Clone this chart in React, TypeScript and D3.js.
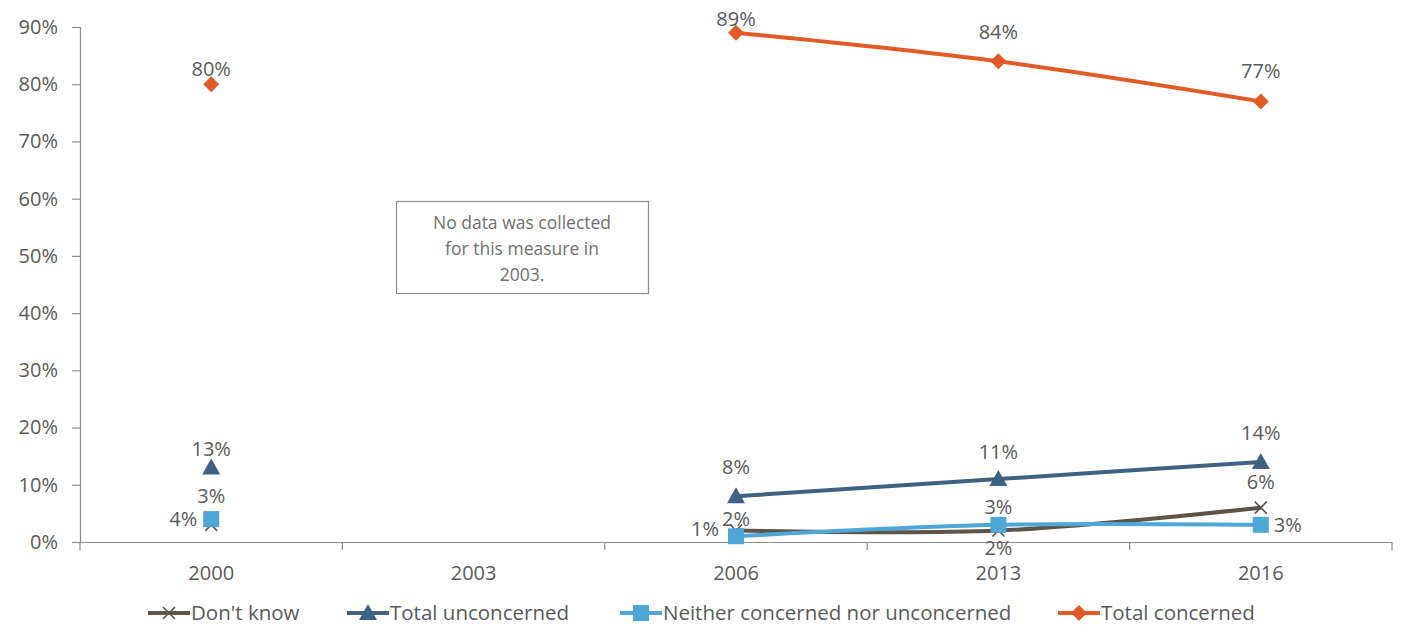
import { useEffect, useRef } from "react";
import * as d3 from "d3";

const years = ["2000", "2003", "2006", "2013", "2016"];
const dontKnow = [3, null, 2, 2, 6];
const totalUnconcerned = [13, null, 8, 11, 14];
const neither = [4, null, 1, 3, 3];
const totalConcerned = [80, null, 89, 84, 77];
const yTicks = [0, 10, 20, 30, 40, 50, 60, 70, 80, 90];
const noteLines = ["No data was collected", "for this measure in", "2003."];

// label placement per point: [dx, dy] from the marker centre, and anchor
type Place = [number, number, string];
const dontKnowPlace: Place[] = [[0, -22, "middle"], [0, 0, ""], [0, -5, "middle"], [0, 24, "middle"], [0, -19, "middle"]];
const unconcernedPlace: Place[] = [[0, -12, "middle"], [0, 0, ""], [0, -22, "middle"], [0, -20, "middle"], [0, -22, "middle"]];
const neitherPlace: Place[] = [[-14, 7, "end"], [0, 0, ""], [-17, 0, "end"], [0, -11, "middle"], [13, 7, "start"]];
const concernedPlace: Place[] = [[0, -8, "middle"], [0, 0, ""], [0, -7, "middle"], [0, -22, "middle"], [0, -23, "middle"]];

interface Series {
  name: string;
  values: (number | null)[];
  color: string;
  marker: string;
  place: Place[];
}

const series: Series[] = [
  { name: "Don't know", values: dontKnow, color: "#5e5349", marker: "x", place: dontKnowPlace },
  { name: "Total unconcerned", values: totalUnconcerned, color: "#3f6283", marker: "triangle", place: unconcernedPlace },
  { name: "Neither concerned nor unconcerned", values: neither, color: "#4ea7d7", marker: "square", place: neitherPlace },
  { name: "Total concerned", values: totalConcerned, color: "#e25a26", marker: "diamond", place: concernedPlace },
];

const FONT = "'Open Sans', sans-serif";
const TEXT = "#5a5a5a";

function drawMarker(g: any, kind: string, x: number, y: number, color: string) {
  if (kind === "x") {
    const s = 6;
    g.append("path")
      .attr("d", `M${x - s},${y - s}L${x + s},${y + s}M${x - s},${y + s}L${x + s},${y - s}`)
      .attr("stroke", color)
      .attr("stroke-width", 1.6)
      .attr("fill", "none");
  } else if (kind === "triangle") {
    g.append("path")
      .attr("d", `M${x},${y - 9}L${x + 9},${y + 7}L${x - 9},${y + 7}Z`)
      .attr("fill", color);
  } else if (kind === "square") {
    g.append("rect")
      .attr("x", x - 8)
      .attr("y", y - 8)
      .attr("width", 16)
      .attr("height", 16)
      .attr("fill", color);
  } else {
    g.append("path")
      .attr("d", `M${x},${y - 8}L${x + 8},${y}L${x},${y + 8}L${x - 8},${y}Z`)
      .attr("fill", color);
  }
}

function Chart() {
  const svgRef = useRef<SVGSVGElement>(null);

  useEffect(() => {
    if (!svgRef.current) return;
    d3.select(svgRef.current).selectAll("*").remove();

    const left = 80;
    const right = 1392;
    const top = 27;
    const bottom = 542;

    const svg = d3.select(svgRef.current);

    const x = d3.scaleBand().domain(years).range([left, right]).padding(0);
    const y = d3.scaleLinear().domain([0, 90]).range([bottom, top]);
    const cx = (yr: string) => x(yr)! + x.bandwidth() / 2;

    // Y axis
    const yAxis = svg
      .append("g")
      .attr("transform", `translate(${left},0)`)
      .call(
        d3
          .axisLeft(y)
          .tickValues(yTicks)
          .tickSize(8)
          .tickPadding(14)
          .tickFormat((d: any) => `${d}%`)
      );
    yAxis.select(".domain").attr("stroke", "#8c8c8c").attr("stroke-width", 1.2);
    yAxis.selectAll("line").attr("stroke", "#8c8c8c").attr("stroke-width", 1.2);
    yAxis
      .selectAll("text")
      .style("font-family", FONT)
      .style("font-size", "20px")
      .style("fill", TEXT);

    // X axis
    const xAxis = svg
      .append("g")
      .attr("transform", `translate(0,${bottom})`)
      .call(d3.axisBottom(x).tickSize(0).tickPadding(24));
    xAxis.select(".domain").attr("stroke", "#8c8c8c").attr("stroke-width", 1.2);
    xAxis
      .selectAll("text")
      .style("font-family", FONT)
      .style("font-size", "20px")
      .style("fill", TEXT);
    // band boundary ticks
    svg
      .append("g")
      .selectAll("line")
      .data(years.map((yr) => x(yr)!).concat([right]))
      .enter()
      .append("line")
      .attr("x1", (d: number) => d)
      .attr("x2", (d: number) => d)
      .attr("y1", bottom)
      .attr("y2", bottom + 8)
      .attr("stroke", "#8c8c8c")
      .attr("stroke-width", 1.2);

    // Note box
    const note = svg.append("g");
    note
      .append("rect")
      .attr("x", 396.5)
      .attr("y", 201.5)
      .attr("width", 252)
      .attr("height", 92)
      .attr("fill", "#fff")
      .attr("stroke", "#8c8c8c")
      .attr("stroke-width", 1.2);
    note
      .selectAll("text")
      .data(noteLines)
      .enter()
      .append("text")
      .attr("x", 522)
      .attr("y", (_: string, i: number) => 229 + i * 26)
      .attr("text-anchor", "middle")
      .style("font-family", FONT)
      .style("font-size", "17.5px")
      .style("fill", "#707070")
      .text((d: string) => d);

    // Lines
    series.forEach((s) => {
      const pts = years
        .map((yr, i) => ({ yr, v: s.values[i] }))
        .filter((p) => p.v !== null && p.yr !== "2000") as { yr: string; v: number }[];
      svg
        .append("path")
        .datum(pts)
        .attr("fill", "none")
        .attr("stroke", s.color)
        .attr("stroke-width", 4)
        .attr(
          "d",
          d3
            .line<{ yr: string; v: number }>()
            .curve(d3.curveCardinal.tension(0))
            .x((d) => cx(d.yr))
            .y((d) => y(d.v))
        );
    });

    // Markers
    series.forEach((s) => {
      const g = svg.append("g");
      years.forEach((yr, i) => {
        const v = s.values[i];
        if (v === null) return;
        drawMarker(g, s.marker, cx(yr), y(v), s.color);
      });
    });

    // Labels
    series.forEach((s) => {
      const g = svg.append("g");
      years.forEach((yr, i) => {
        const v = s.values[i];
        if (v === null) return;
        const [dx, dy, anchor] = s.place[i];
        g.append("text")
          .attr("x", cx(yr) + dx)
          .attr("y", y(v) + dy)
          .attr("text-anchor", anchor)
          .style("font-family", FONT)
          .style("font-size", "20px")
          .style("fill", TEXT)
          .text(`${v}%`);
      });
    });

    // Legend
    const legendX = [148, 347, 620, 1058];
    const legendY = 613;
    series.forEach((s, i) => {
      const g = svg.append("g");
      g.append("line")
        .attr("x1", legendX[i])
        .attr("x2", legendX[i] + 42)
        .attr("y1", legendY)
        .attr("y2", legendY)
        .attr("stroke", s.color)
        .attr("stroke-width", 4);
      drawMarker(g, s.marker, legendX[i] + 21, legendY, s.color);
      g.append("text")
        .attr("x", legendX[i] + 43)
        .attr("y", legendY + 7)
        .style("font-family", FONT)
        .style("font-size", "20.5px")
        .style("fill", TEXT)
        .text(s.name);
    });
  }, []);

  return (
    <svg
      ref={svgRef}
      width={1401}
      height={626}
      style={{ position: "absolute", left: 0, top: 0, background: "#fff" }}
    />
  );
}

export default function App() {
  return <Chart />;
}
